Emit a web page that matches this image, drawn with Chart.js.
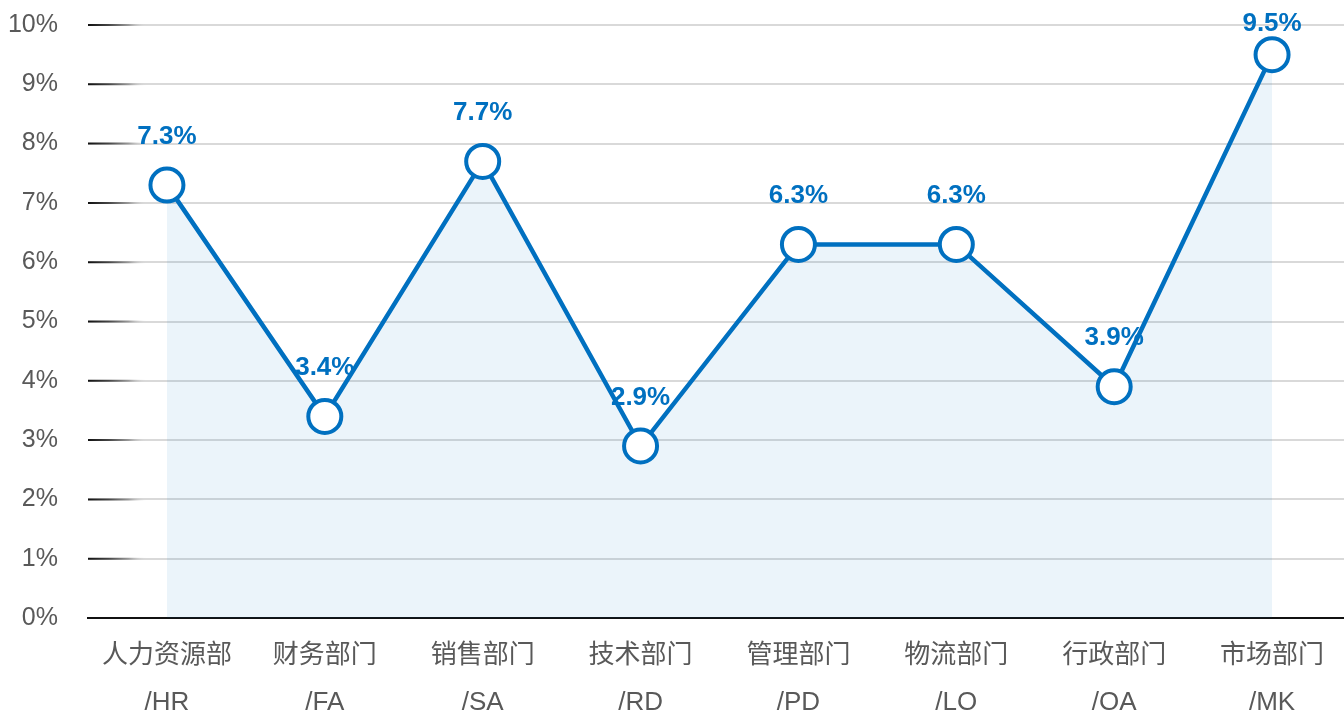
<!DOCTYPE html>
<html>
<head>
<meta charset="utf-8">
<script src="https://cdn.jsdelivr.net/npm/chart.js@4/dist/chart.umd.min.js"></script>
<style>
html,body{margin:0;padding:0;background:#fff;overflow:hidden;}
#wrap{width:1351px;height:711px;position:relative;}
</style>
</head>
<body>
<div id="wrap"><canvas id="c"></canvas></div>
<script>
const categoriesCN = ['人力资源部','财务部门','销售部门','技术部门','管理部门','物流部门','行政部门','市场部门'];
const categoriesEN = ['/HR','/FA','/SA','/RD','/PD','/LO','/OA','/MK'];
const values = [7.3, 3.4, 7.7, 2.9, 6.3, 6.3, 3.9, 9.5];
const yTickMin = 0, yTickMax = 10, yTickStep = 1;

const FONT = '"Liberation Sans", Arial, "Noto Sans CJK SC", sans-serif';
const BLUE = '#0070c0';

const labels = categoriesCN.map((c,i)=>[c, categoriesEN[i]]);

const gridAccent = {
  id:'gridAccent',
  beforeDatasetsDraw(chart){
    const {ctx, chartArea, scales:{y}} = chart;
    const x0 = chartArea.left, x1 = chartArea.left + 58;
    ctx.save();
    y.ticks.forEach(t=>{
      if (t.value === 0) return;
      const py = y.getPixelForValue(t.value);
      const g = ctx.createLinearGradient(x0,0,x1,0);
      g.addColorStop(0,'#111111');
      g.addColorStop(0.35,'#444444');
      g.addColorStop(0.7,'#9a9a9a');
      g.addColorStop(1,'rgba(217,217,217,0)');
      ctx.strokeStyle = g;
      ctx.lineWidth = 2;
      ctx.beginPath();
      ctx.moveTo(x0,py);
      ctx.lineTo(x1,py);
      ctx.stroke();
    });
    ctx.restore();
  }
};

const dataLabels = {
  id:'dataLabels',
  beforeDatasetsDraw(chart){
    const {ctx, chartArea} = chart;
    const meta = chart.getDatasetMeta(0);
    ctx.save();
    ctx.font = 'bold 26px ' + FONT;
    ctx.fillStyle = BLUE;
    ctx.textAlign = 'center';
    ctx.textBaseline = 'middle';
    meta.data.forEach((p,i)=>{
      const ly = Math.max(p.y - 48.5, chartArea.top - 1);
      ctx.fillText(values[i].toFixed(1) + '%', p.x, ly);
    });
    ctx.restore();
  }
};

new Chart(document.getElementById('c'), {
  type:'line',
  data:{
    labels: labels,
    datasets:[{
      data: values,
      borderColor: BLUE,
      borderWidth: 4.5,
      tension: 0,
      fill: 'origin',
      backgroundColor: 'rgba(0,112,192,0.08)',
      pointRadius: 16.5,
      pointHoverRadius: 16.5,
      pointBackgroundColor: '#ffffff',
      pointBorderColor: BLUE,
      pointBorderWidth: 4,
      clip: false
    }]
  },
  options:{
    responsive:true,
    maintainAspectRatio:false,
    animation:false,
    layout:{autoPadding:false, padding:{top:25,left:0,right:0,bottom:0}},
    plugins:{legend:{display:false},tooltip:{enabled:false}},
    scales:{
      x:{
        offset:true,
        grid:{display:false, drawTicks:false},
        border:{display:true, color:'#111', width:2},
        ticks:{
          color:'#595959',
          padding:14,
          maxRotation:0,
          autoSkip:false,
          font:{family:FONT, size:26, lineHeight:'47px'}
        },
        afterFit(s){ s.height = 93; s.paddingLeft = 0; s.paddingRight = 0; }
      },
      y:{
        min:yTickMin, max:yTickMax,
        grid:{color:'#d9d9d9', lineWidth:2, drawTicks:false},
        border:{display:false},
        ticks:{
          stepSize:yTickStep,
          color:'#595959',
          padding:30,
          font:{family:FONT, size:25},
          callback:v=>v+'%'
        },
        afterFit(s){ s.width = 88; s.paddingTop = 0; s.paddingBottom = 0; }
      }
    }
  },
  plugins:[gridAccent, dataLabels]
});
</script>
</body>
</html>
